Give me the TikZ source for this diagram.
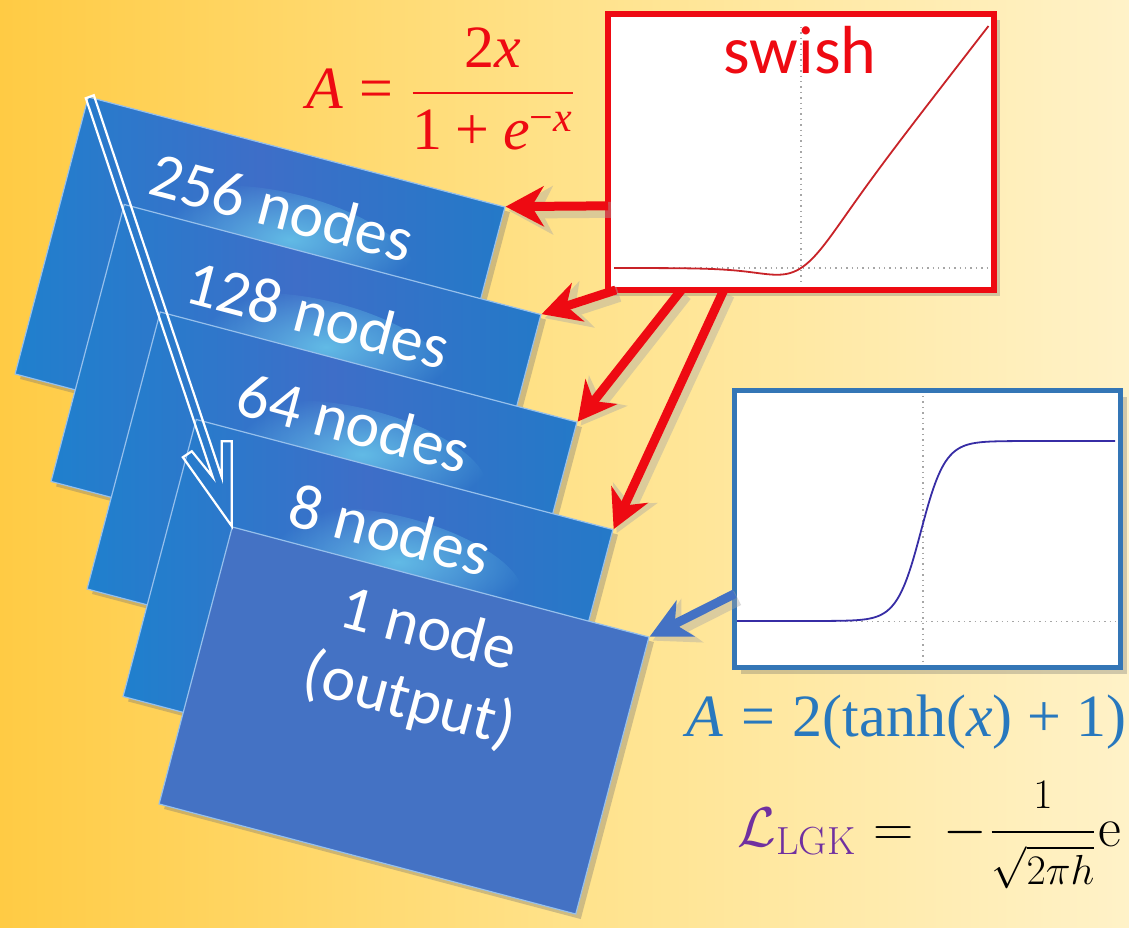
\RequirePackage{fix-cm}
\documentclass[tikz,border=0pt]{standalone}
\usepackage{amsmath}
\usepackage{fontspec}
\newfontfamily\calibri{Carlito}
\newfontfamily\tms{Liberation Serif}
\usetikzlibrary{arrows.meta, calc, positioning, shadows, fadings}
\definecolor{bgleft}{RGB}{255,203,68}
\definecolor{bgmid}{RGB}{255,226,138}
\definecolor{bgright}{RGB}{255,242,200}
\definecolor{layerleft}{RGB}{31,128,205}
\definecolor{layermid}{RGB}{62,110,200}
\definecolor{layerright}{RGB}{36,121,200}
\definecolor{layerout}{RGB}{68,114,196}
\definecolor{layeredge}{RGB}{150,192,236}
\definecolor{glowcyan}{RGB}{105,200,235}
\definecolor{swishred}{RGB}{238,10,18}
\definecolor{curvered}{RGB}{200,35,40}
\definecolor{tanhblue}{RGB}{52,118,182}
\definecolor{curveblue}{RGB}{55,45,165}
\definecolor{eqblue}{RGB}{40,120,190}
\definecolor{lgkpurple}{RGB}{112,48,160}
\newcommand{\tmsi}[1]{\text{\tms\itshape #1}}
\newcommand{\tmsr}[1]{\text{\tms #1}}
\tikzfading[name=glowfade, inner color=transparent!0, outer color=transparent!100]

\begin{document}
\begin{tikzpicture}[x=0.5pt, y=-0.5pt,
  layer/.style={rotate=-14.8, minimum width=215.5pt, minimum height=143.25pt, inner sep=0pt,
    draw=layeredge, line width=0.6pt,
    drop shadow={shadow xshift=2.5pt, shadow yshift=-2.5pt, opacity=.35, fill=black!55}},
  layershade/.style={left color=layerleft, right color=layerright, middle color=layermid},
  layertext/.style={rotate=-14.8, text=white, align=center, font=\calibri\fontsize{32}{36.5}\selectfont},
  plotbox/.style={fill=white, line width=3pt, inner sep=0pt, outer sep=0pt,
    minimum width=193pt, minimum height=138pt,
    drop shadow={shadow xshift=3pt, shadow yshift=-3pt, opacity=.3, fill=black!60}},
  axisline/.style={gray!70, dotted, line width=0.7pt},
  hollowarrow/.style={draw=white, line width=1.1pt, line join=miter},
  redarrow/.style={draw=swishred, line width=4.5pt, -{Stealth[length=19pt, width=20pt, inset=6pt]}},
  bluearrow/.style={draw=layerout, line width=4.5pt, -{Stealth[length=20pt, width=20pt, inset=6pt]}},
  arrowshade/.style={draw=black!35, line width=8pt, transform canvas={shift={(1.5pt,-2pt)}},
    -{Stealth[length=22pt, width=24pt, inset=6pt]}}]

  \useasboundingbox (0,0) rectangle (1129,927);
  \clip (0,0) rectangle (1129,927);
  \shade[left color=bgleft, right color=bgright, middle color=bgmid] (0,0) rectangle (1129,927);

  % stacked layers
  \foreach \i/\n/\lab in {1/0/256 nodes, 2/1/128 nodes, 3/2/64 nodes, 4/3/8 nodes}{
    \node[layer, layershade] (layer\i) at ({260+36*\n}, {290.5+107.5*\n}) {};
    \coordinate (glow\i) at ($(layer\i.center)+(30,-48)$);
    \fill[glowcyan, opacity=.85, path fading=glowfade, rotate around={-14.8:(glow\i)}]
      (glow\i) ellipse [x radius=64pt, y radius=24pt];
    \node[layertext] (lab\i) at ($(layer\i.north)!.2!(layer\i.south)$) {\lab};
  }
  \node[layer, fill=layerout] (layer5) at (404,720.5) {};
  \node[layertext] (lab5) at ($(layer5.north)!.307!(layer5.south)$) {1 node\\(output)};

  % hollow arrow down the stack
  \coordinate (ha) at (layer1.north west);
  \coordinate (hb) at (layer5.north west);
  \draw[hollowarrow] ($(ha)+(-2,2)$) -- ($(hb)+(-19,-49)$) -- ($(hb)+(-40,-75)$) -- ($(hb)+(-49,-69)$)
    -- (hb) -- ($(hb)+(0,-85)$) -- ($(hb)+(-10,-85)$) -- ($(hb)+(-10,-49)$) -- ($(ha)+(6,-1)$) -- cycle;

  % swish plot
  \node[plotbox, draw=swishred] (swish) at (801,152) {};
  \draw[axisline] (614,268) -- (990,268);
  \draw[axisline] (801,27) -- (801,282);
  \draw[curvered, line width=0.9pt] (614,268) -- plot[variable=\t, domain=-9:10, samples=120, smooth]
    ({801+18.75*\t}, {268-24.2*\t/(1+exp(-\t))});
  \node[text=swishred, anchor=base, inner sep=0pt, font=\calibri\fontsize{34}{40}\selectfont] (swishlab) at (800,73) {swish};

  % tanh plot
  \node[plotbox, draw=tanhblue, line width=2.5pt, minimum height=138.5pt] (tanhbox) at (927.5,529) {};
  \draw[axisline] (737,621.5) -- (1116,621.5);
  \draw[axisline] (923,396) -- (923,665);
  \draw[curveblue, line width=0.9pt] plot[variable=\t, domain=737:1115, samples=150, smooth]
    (\t, {531-90*(1-2/(1+exp(2*max(-4.5,min(4.5,(\t-921)/24)))))});

  % connectors
  \coordinate (s1) at ($(swish.north west)!.695!(swish.south west)$);
  \coordinate (s2) at ($(swish.south west)!.02!(swish.south east)$);
  \coordinate (s3) at ($(swish.south west)!.19!(swish.south east)$);
  \coordinate (s4) at ($(swish.south west)!.30!(swish.south east)$);
  \coordinate (t1) at ($(tanhbox.north west)!.734!(tanhbox.south west)$);
  \begin{scope}[transparency group, opacity=.4]
    \foreach \s/\l in {s1/layer1, s2/layer2, s3/layer3, s4/layer4, t1/layer5}
      \draw[arrowshade] (\s) -- (\l.north east);
  \end{scope}
  \foreach \s/\l in {s1/layer1, s2/layer2, s3/layer3, s4/layer4}
    \draw[redarrow] (\s) -- (\l.north east);
  \draw[bluearrow] (t1) -- (layer5.north east);

  % formulas
  \node[anchor=base west, text=swishred, inner sep=0pt] (eqswish) at (306,108)
    {\fontsize{30}{36}\selectfont$\tmsi{A}\mathrel{\tmsr{=}}\dfrac{\tmsr{2}\tmsi{x}}{\tmsr{1}\mathbin{\tmsr{+}}\tmsi{e}^{\tmsr{−}\tmsi{x}}}$};
  \node[anchor=base west, text=eqblue, inner sep=0pt] (eqtanh) at (686,736)
    {\tms\fontsize{30}{36}\selectfont\itshape A\upshape\hspace{.3em}=\hspace{.3em}2(tanh(\itshape x\/\upshape)\hspace{.25em}+\hspace{.25em}1)};
  \node[anchor=base west, inner sep=0pt] (eqlgk) at (737,846)
    {\fontsize{28}{32}\selectfont$\textcolor{lgkpurple}{\mathcal{L}_{\mathrm{LGK}}}\hspace{1pt}=\hspace{7pt}-\hspace{1pt}\dfrac{\mbox{\fontsize{21}{24}\selectfont$1$}}{\mbox{\fontsize{21}{24}\selectfont$\sqrt{2\pi h}$}}\hspace{1pt}\mathrm{e}$};
\end{tikzpicture}
\end{document}
